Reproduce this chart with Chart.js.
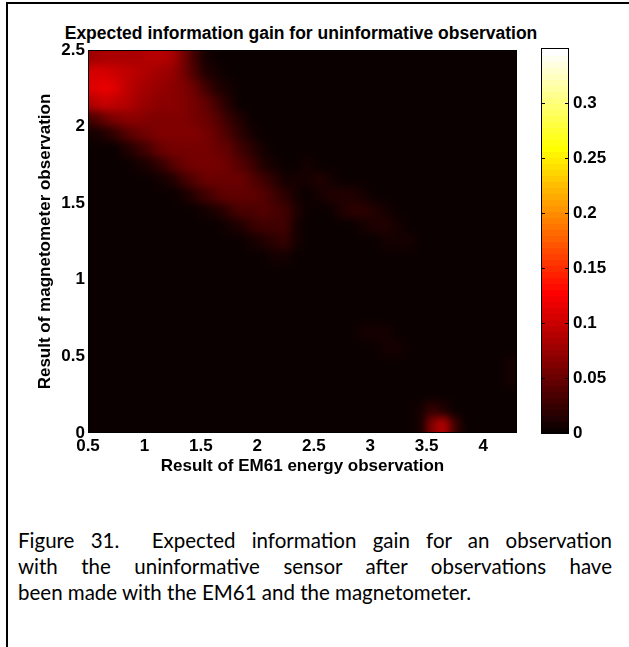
<!DOCTYPE html>
<html>
<head>
<meta charset="utf-8">
<script src="https://cdn.jsdelivr.net/npm/chart.js@4.4.1/dist/chart.umd.min.js"></script>
<style>
  html, body { margin: 0; padding: 0; background: #fff; }
  body { width: 629px; height: 647px; position: relative; overflow: hidden; }
  .frame { position: absolute; left: 6px; top: 2px; width: 700px; height: 700px; border-top: 2px solid #000; border-left: 2px solid #000; }
  #title { position: absolute; left: 0; width: 602px; top: 23px; text-align: center; font: bold 17.5px "Liberation Sans", Arial, sans-serif; line-height: 20px; color: #000; }
  #heat { position: absolute; left: 0; top: 0; }
  #cbar { position: absolute; left: 530px; top: 0; }
  #caption { position: absolute; left: 18px; top: 527px; width: 594px; font: 20.5px Lato, sans-serif; line-height: 26px; color: #000; }
  #caption div { text-align: justify; text-align-last: justify; white-space: nowrap; }
  #caption div.last { text-align-last: left; }
</style>
</head>
<body>
<div class="frame"></div>
<div id="title">Expected information gain for uninformative observation</div>
<canvas id="heat" width="530" height="480"></canvas>
<canvas id="cbar" width="99" height="480"></canvas>
<div id="caption">
  <div>Figure 31.&nbsp; Expected information gain for an observation</div>
  <div>with the uninformative sensor after observations have</div>
  <div class="last">been made with the EM61 and the magnetometer.</div>
</div>
<script>
// cell centres (EM61 energy on x, magnetometer on y, top row first)
const xCells = [0.55, 0.65, 0.75, 0.85, 0.95, 1.05, 1.15, 1.25, 1.35, 1.45,
                1.55, 1.65, 1.75, 1.85, 1.95, 2.05, 2.15, 2.25, 2.35, 2.45,
                2.55, 2.65, 2.75, 2.85, 2.95, 3.05, 3.15, 3.25, 3.35, 3.45,
                3.55, 3.65, 3.75, 3.85, 3.95, 4.05, 4.15, 4.25];
const yCells = [2.45, 2.35, 2.25, 2.15, 2.05, 1.95, 1.85, 1.75, 1.65, 1.55,
                1.45, 1.35, 1.25, 1.15, 1.05, 0.95, 0.85, 0.75, 0.65, 0.55,
                0.45, 0.35, 0.25, 0.15, 0.05];

// expected information gain, x1000
const gainRows = [
  [82,86,86,84,86,90,92,86,60,28,10,4,1,0,0,0,0,0,0,0,0,0,0,0,0,0,0,0,0,0,0,0,0,0,0,0,0,0],
  [105,108,102,94,88,85,82,75,60,36,16,6,2,0,0,0,0,0,0,0,0,0,0,0,0,0,0,0,0,0,0,0,0,0,0,0,0,0],
  [114,118,110,96,86,79,75,71,64,50,32,15,6,2,0,0,0,0,0,0,0,0,0,0,0,0,0,0,0,0,0,0,0,0,0,0,0,0],
  [90,100,98,89,81,73,69,67,64,58,46,30,14,5,2,0,0,0,0,0,0,0,0,0,0,0,0,0,0,0,0,0,0,0,0,0,0,0],
  [38,52,63,67,67,65,63,63,63,60,54,42,26,12,4,1,0,0,0,0,0,0,0,0,0,0,0,0,0,0,0,0,0,0,0,0,0,0],
  [6,13,25,40,52,58,61,62,62,61,57,49,36,21,10,3,1,0,0,0,0,0,0,0,0,0,0,0,0,0,0,0,0,0,0,0,0,0],
  [1,2,5,12,24,38,50,56,59,60,58,54,45,31,17,7,2,0,0,0,0,0,0,0,0,0,0,0,0,0,0,0,0,0,0,0,0,0],
  [0,0,0,2,6,14,26,40,50,55,57,56,52,43,29,16,7,3,5,6,4,1,0,0,0,0,0,0,0,0,0,0,0,0,0,0,0,0],
  [0,0,0,0,0,2,6,14,28,42,50,54,54,50,42,30,18,9,6,8,11,10,5,2,0,0,0,0,0,0,0,0,0,0,0,0,0,0],
  [0,0,0,0,0,0,0,3,8,18,30,40,46,48,46,40,30,18,8,5,8,13,16,14,8,3,0,0,0,0,0,0,0,0,0,0,0,0],
  [0,0,0,0,0,0,0,0,0,3,8,16,26,34,38,40,38,30,12,4,2,4,11,18,19,13,6,2,0,0,0,0,0,0,0,0,0,0],
  [0,0,0,0,0,0,0,0,0,0,0,3,8,16,24,30,32,28,8,2,0,0,2,4,9,14,15,10,4,1,0,0,0,0,0,0,0,0],
  [0,0,0,0,0,0,0,0,0,0,0,0,0,3,8,14,20,22,6,0,0,0,0,0,2,4,8,10,9,5,2,0,0,0,0,0,0,0],
  [0,0,0,0,0,0,0,0,0,0,0,0,0,0,0,3,6,8,3,0,0,0,0,0,0,0,0,2,4,5,3,1,0,0,0,0,0,0],
  [0,0,0,0,0,0,0,0,0,0,0,0,0,0,0,0,0,0,0,0,0,0,0,0,0,0,0,0,0,0,0,0,0,0,0,0,0,0],
  [0,0,0,0,0,0,0,0,0,0,0,0,0,0,0,0,0,0,0,0,0,0,0,0,0,0,0,0,0,0,0,0,0,0,0,0,0,0],
  [0,0,0,0,0,0,0,0,0,0,0,0,0,0,0,0,0,0,0,0,0,0,0,0,0,0,0,0,0,0,0,0,0,0,0,0,0,0],
  [0,0,0,0,0,0,0,0,0,0,0,0,0,0,0,0,0,0,0,0,0,0,0,1,1,0,0,0,0,0,0,0,0,0,0,0,0,0],
  [0,0,0,0,0,0,0,0,0,0,0,0,0,0,0,0,0,0,0,0,0,0,0,4,8,9,6,2,0,0,0,0,0,0,0,0,0,0],
  [0,0,0,0,0,0,0,0,0,0,0,0,0,0,0,0,0,0,0,0,0,0,0,0,0,3,7,8,4,0,0,0,0,0,0,0,0,0],
  [0,0,0,0,0,0,0,0,0,0,0,0,0,0,0,0,0,0,0,0,0,0,0,0,0,0,0,1,0,0,0,0,0,0,0,0,0,6],
  [0,0,0,0,0,0,0,0,0,0,0,0,0,0,0,0,0,0,0,0,0,0,0,0,0,0,0,0,0,0,0,0,0,0,0,0,0,6],
  [0,0,0,0,0,0,0,0,0,0,0,0,0,0,0,0,0,0,0,0,0,0,0,0,0,0,0,0,0,0,0,0,0,0,0,0,0,0],
  [0,0,0,0,0,0,0,0,0,0,0,0,0,0,0,0,0,0,0,0,0,0,0,0,0,0,0,0,0,8,24,16,5,0,0,0,0,0],
  [0,0,0,0,0,0,0,0,0,0,0,0,0,0,0,0,0,0,0,0,0,0,0,0,0,0,0,0,0,6,65,92,30,4,0,0,0,0]
];

const xTicks = [0.5, 1, 1.5, 2, 2.5, 3, 3.5, 4];
const yTicks = [0, 0.5, 1, 1.5, 2, 2.5];
const cbTicks = [0, 0.05, 0.1, 0.15, 0.2, 0.25, 0.3];
const cMax = 0.35;

const FONT = '"Liberation Sans", Arial, sans-serif';
const tickFont = { family: FONT, size: 17, weight: 'bold' };

// matlab hot(64)
const hot = (k) => {
    const n = 24;
    const r = k < n ? (k + 1) / n : 1;
    const g = k < n ? 0 : k < 2 * n ? (k - n + 1) / n : 1;
    const b = k < 2 * n ? 0 : (k - 2 * n + 1) / 16;
    return `rgb(${Math.round(r * 255)},${Math.round(g * 255)},${Math.round(b * 255)})`;
};
const colorFor = (v) => hot(Math.max(0, Math.min(63, Math.floor(v / cMax * 64))));

const cells = [];
yCells.forEach((y, i) => {
    xCells.forEach((x, j) => cells.push({ x, y, v: gainRows[i][j] / 1000 }));
});

const heatPlugin = {
    id: 'heat',
    beforeDatasetsDraw(chart) {
        const { ctx, chartArea: a, scales: { x, y } } = chart;
        const hw = (xCells[1] - xCells[0]) / 2;
        const hh = (yCells[0] - yCells[1]) / 2;
        // paint the cells on a scratch canvas, then smooth it once
        const off = document.createElement('canvas');
        off.width = chart.canvas.width;
        off.height = chart.canvas.height;
        const oc = off.getContext('2d');
        oc.fillStyle = colorFor(0);
        oc.fillRect(0, 0, off.width, off.height);
        chart.data.datasets[0].data.forEach((c) => {
            let x0 = x.getPixelForValue(c.x - hw);
            let x1 = x.getPixelForValue(c.x + hw);
            let y0 = y.getPixelForValue(c.y + hh);
            let y1 = y.getPixelForValue(c.y - hh);
            // border cells run past the frame so the blur keeps them bright
            if (x0 <= a.left + 1) x0 -= 12;
            if (x1 >= a.right - 1) x1 += 12;
            if (y0 <= a.top + 1) y0 -= 12;
            if (y1 >= a.bottom - 1) y1 += 12;
            oc.fillStyle = colorFor(c.v);
            oc.fillRect(Math.floor(x0), Math.floor(y0), Math.ceil(x1 - x0) + 1, Math.ceil(y1 - y0) + 1);
        });
        ctx.save();
        ctx.beginPath();
        ctx.rect(a.left, a.top, a.width, a.height);
        ctx.clip();
        ctx.filter = 'blur(4px)';
        ctx.drawImage(off, 0, 0);
        ctx.restore();
    },
    afterDraw(chart) {
        const { ctx, chartArea: a } = chart;
        ctx.save();
        ctx.strokeStyle = '#000';
        ctx.lineWidth = 1;
        ctx.strokeRect(a.left + 0.5, a.top + 0.5, a.width - 1, a.height - 1);
        ctx.restore();
    },
};

new Chart(document.getElementById('heat'), {
    type: 'scatter',
    data: { datasets: [{ data: cells, pointRadius: 0, pointHoverRadius: 0 }] },
    options: {
        responsive: false,
        animation: false,
        events: [],
        layout: { padding: { left: 30, right: 13, top: 50, bottom: 0 } },
        plugins: { legend: { display: false }, tooltip: { enabled: false } },
        scales: {
            x: {
                type: 'linear', min: 0.5, max: 4.3,
                grid: { display: false, drawTicks: false },
                border: { display: false },
                afterBuildTicks: (s) => { s.ticks = xTicks.map((value) => ({ value })); },
                afterFit: (s) => { s.height = 47; },
                ticks: { padding: 3, color: '#000', font: tickFont, autoSkip: false, maxRotation: 0, callback: (v) => String(v) },
                title: { display: true, text: 'Result of EM61 energy observation', color: '#000', font: tickFont, padding: { top: 0, bottom: 3 } },
            },
            y: {
                type: 'linear', min: 0, max: 2.5,
                grid: { display: false, drawTicks: false },
                border: { display: false },
                afterBuildTicks: (s) => { s.ticks = yTicks.map((value) => ({ value })); },
                afterFit: (s) => { s.width = 58; },
                ticks: { padding: 3, color: '#000', font: tickFont, autoSkip: false, callback: (v) => String(v) },
                title: { display: true, text: 'Result of magnetometer observation', color: '#000', font: tickFont, padding: { top: 5, bottom: 0 } },
            },
        },
    },
    plugins: [heatPlugin],
});

const cbarPlugin = {
    id: 'cbar',
    beforeDatasetsDraw(chart) {
        const { ctx, chartArea: a, scales: { y } } = chart;
        ctx.save();
        for (let k = 0; k < 64; k++) {
            const y0 = y.getPixelForValue((k + 1) / 64 * cMax);
            const y1 = y.getPixelForValue(k / 64 * cMax);
            ctx.fillStyle = hot(k);
            ctx.fillRect(a.left, Math.floor(y0), a.width, Math.ceil(y1 - y0) + 1);
        }
        ctx.strokeStyle = '#000';
        ctx.lineWidth = 1;
        ctx.strokeRect(a.left + 0.5, a.top + 0.5, a.width - 1, a.height - 1);
        cbTicks.forEach((t) => {
            const py = Math.round(y.getPixelForValue(t)) + 0.5;
            ctx.beginPath();
            ctx.moveTo(a.left, py); ctx.lineTo(a.left + 4, py);
            ctx.moveTo(a.right - 4, py); ctx.lineTo(a.right, py);
            ctx.stroke();
        });
        ctx.restore();
    },
};

new Chart(document.getElementById('cbar'), {
    type: 'scatter',
    data: { datasets: [{ data: [], pointRadius: 0 }] },
    options: {
        responsive: false,
        animation: false,
        events: [],
        layout: { padding: { left: 11, right: 0, top: 48, bottom: 47 } },
        plugins: { legend: { display: false }, tooltip: { enabled: false } },
        scales: {
            x: { display: false, min: 0, max: 1 },
            y: {
                position: 'right', min: 0, max: cMax,
                grid: { display: false, drawTicks: false },
                border: { display: false },
                afterBuildTicks: (s) => { s.ticks = cbTicks.map((value) => ({ value })); },
                afterFit: (s) => { s.width = 60; },
                ticks: { padding: 4, color: '#000', font: tickFont, autoSkip: false, callback: (v) => String(v) },
            },
        },
    },
    plugins: [cbarPlugin],
});
</script>
</body>
</html>
